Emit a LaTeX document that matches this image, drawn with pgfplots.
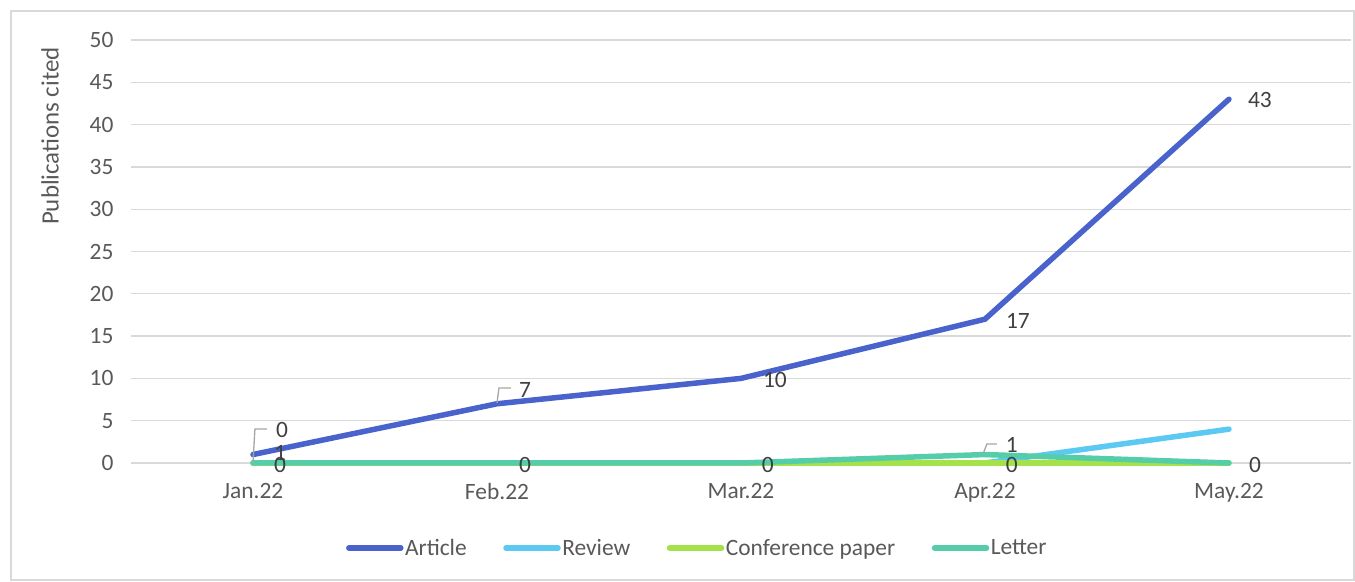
\documentclass[border=0pt]{standalone}
\usepackage{fontspec}
\setmainfont{Carlito}
\usepackage{pgfplots}
\pgfplotsset{compat=1.18}
\definecolor{cArticle}{HTML}{4A62CB}
\definecolor{cReview}{HTML}{5BC9F2}
\definecolor{cConf}{HTML}{A3E24A}
\definecolor{cLetter}{HTML}{55CDA9}
\definecolor{gridgray}{HTML}{D9D9D9}
\definecolor{textgray}{HTML}{595959}
\definecolor{labgray}{HTML}{404040}
\definecolor{leadgray}{HTML}{A6A6A6}
\begin{document}
\begin{tikzpicture}[x=1bp,y=1bp]
\path[use as bounding box] (-131,-119) rectangle (1224,463);
\begin{axis}[
  at={(0,0)}, anchor=south west,
  scale only axis, width=1220bp, height=423bp,
  xmin=-0.5, xmax=4.5, ymin=0, ymax=50,
  xtick={0,1,2,3,4},
  xticklabels={Jan.22,Feb.22,Mar.22,Apr.22,May.22},
  ytick={0,5,...,50},
  ymajorgrids,
  grid style={draw=gridgray, line width=1.3bp},
  axis line style={draw=none},
  major tick length=0pt,
  tick label style={font=\fontsize{23.5}{26}\selectfont, text=textgray},
  /pgf/number format/assume math mode=true,
  yticklabel style={xshift=-14bp},
  xticklabel style={yshift=-17bp},
  ylabel={Publications cited},
  every axis y label/.style={at={(axis description cs:0,0.773)}, xshift=-81bp, rotate=90, anchor=center,
     font=\fontsize{25}{28}\selectfont, text=textgray},
  legend columns=4,
  legend style={at={(axis description cs:0.464,-0.201)}, anchor=center, draw=none,
    font=\fontsize{23.5}{26}\selectfont, text=textgray,
    /tikz/every even column/.append style={column sep=35bp},
    nodes={inner sep=1.5bp}},
  legend image code/.code={\draw[#1, line width=5.5bp, line cap=round] (0bp,0bp) -- (52bp,0bp);},
  every axis plot/.append style={line width=5.5bp, line join=round, line cap=round},
  clip=false,
]
\addplot[cArticle] coordinates {(0,1) (1,7) (2,10) (3,17) (4,43)};
\addlegendentry{Article}
\addplot[cReview] coordinates {(0,0) (1,0) (2,0) (3,0) (4,4)};
\addlegendentry{Review}
\addplot[cConf] coordinates {(0,0) (1,0) (2,0) (3,0) (4,0)};
\addlegendentry{Conference paper}
\addplot[cLetter] coordinates {(0,0) (1,0) (2,0) (3,1) (4,0)};
\addlegendentry{Letter}

% leader lines
\draw[leadgray, line width=1.3bp] (axis cs:0,0.12) -- (axis cs:0.008,4.02) -- (axis cs:0.057,4.02);
\draw[leadgray, line width=1.3bp] (axis cs:1,7.09) -- (axis cs:1.008,8.87) -- (axis cs:1.057,8.87);
\draw[leadgray, line width=1.3bp] (axis cs:2.992,1.06) -- (axis cs:3.008,2.25) -- (axis cs:3.049,2.25);

% data labels
\begin{scope}[every node/.style={font=\fontsize{23.5}{26}\selectfont, text=labgray, inner sep=0pt}]
\node at (axis cs:0.119,3.9) {0};
\node at (axis cs:0.111,1.18) {1};
\node at (axis cs:0.111,-0.24) {0};
\node at (axis cs:1.115,8.63) {7};
\node at (axis cs:1.115,-0.24) {0};
\node at (axis cs:2.139,9.81) {10};
\node at (axis cs:2.11,-0.24) {0};
\node at (axis cs:3.135,16.78) {17};
\node at (axis cs:3.11,2.13) {1};
\node at (axis cs:3.11,-0.24) {0};
\node at (axis cs:4.127,42.9) {43};
\node at (axis cs:4.107,-0.24) {0};
\end{scope}
\end{axis}
\draw[gridgray, line width=1.2bp] (-120,-117) rectangle (1223,452);
\end{tikzpicture}
\end{document}
